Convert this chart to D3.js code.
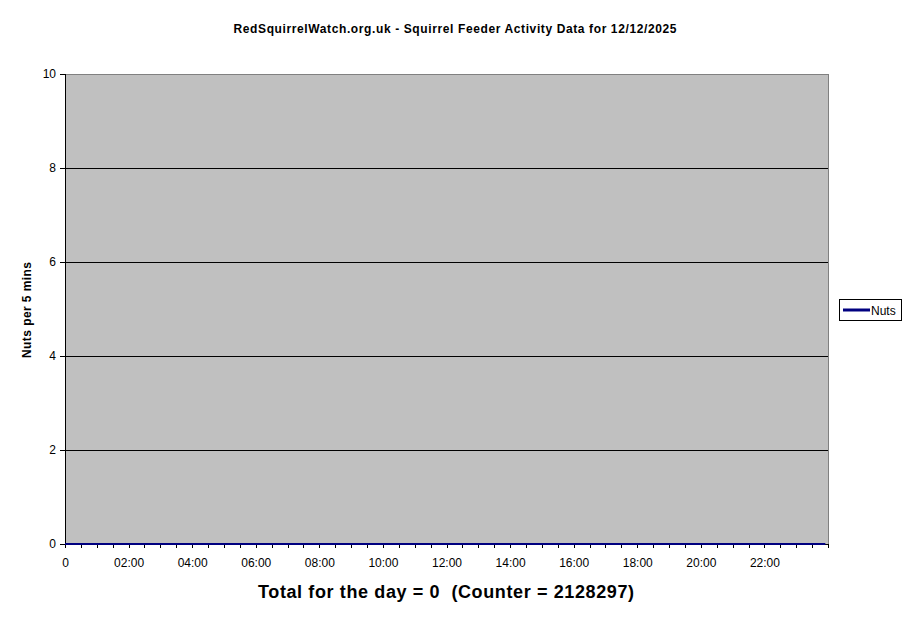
<!DOCTYPE html>
<html><head><meta charset="utf-8">
<script src="https://cdn.jsdelivr.net/npm/d3@7"></script>
<style>
body{margin:0;background:#fff;}
text{font-family:Arial,"Liberation Sans",sans-serif;}
</style></head>
<body><svg id="c" width="911" height="623"></svg>
<script>
const title = "RedSquirrelWatch.org.uk - Squirrel Feeder Activity Data for 12/12/2025";
const yLabel = "Nuts per 5 mins";
const xLabel = "Total for the day = 0  (Counter = 2128297)";
const seriesName = "Nuts";
const yTicks = [0, 2, 4, 6, 8, 10];
const xLabelHours = ["0","02:00","04:00","06:00","08:00","10:00","12:00","14:00","16:00","18:00","20:00","22:00"];
// 288 five-minute readings (one row per hour), all zero on this day
const nuts = [
0,0,0,0,0,0,0,0,0,0,0,0, 0,0,0,0,0,0,0,0,0,0,0,0, 0,0,0,0,0,0,0,0,0,0,0,0, 0,0,0,0,0,0,0,0,0,0,0,0,
0,0,0,0,0,0,0,0,0,0,0,0, 0,0,0,0,0,0,0,0,0,0,0,0, 0,0,0,0,0,0,0,0,0,0,0,0, 0,0,0,0,0,0,0,0,0,0,0,0,
0,0,0,0,0,0,0,0,0,0,0,0, 0,0,0,0,0,0,0,0,0,0,0,0, 0,0,0,0,0,0,0,0,0,0,0,0, 0,0,0,0,0,0,0,0,0,0,0,0,
0,0,0,0,0,0,0,0,0,0,0,0, 0,0,0,0,0,0,0,0,0,0,0,0, 0,0,0,0,0,0,0,0,0,0,0,0, 0,0,0,0,0,0,0,0,0,0,0,0,
0,0,0,0,0,0,0,0,0,0,0,0, 0,0,0,0,0,0,0,0,0,0,0,0, 0,0,0,0,0,0,0,0,0,0,0,0, 0,0,0,0,0,0,0,0,0,0,0,0,
0,0,0,0,0,0,0,0,0,0,0,0, 0,0,0,0,0,0,0,0,0,0,0,0, 0,0,0,0,0,0,0,0,0,0,0,0, 0,0,0,0,0,0,0,0,0,0,0,0
];

const svg = d3.select("#c");
const L = 65, R = 828, T = 74, B = 544;
const x = d3.scaleLinear().domain([0, 288]).range([L, R]);
const y = d3.scaleLinear().domain([0, 10]).range([B, T]);

// plot area
svg.append("rect").attr("x", L).attr("y", T).attr("width", R - L).attr("height", B - T)
  .attr("fill", "#c0c0c0").attr("stroke", "#808080").attr("stroke-width", 1)
  .attr("shape-rendering", "crispEdges");

// gridlines
svg.append("g").selectAll("line").data(yTicks.filter(d => d > 0 && d < 10)).join("line")
  .attr("x1", L).attr("x2", R).attr("y1", d => y(d)).attr("y2", d => y(d))
  .attr("stroke", "#000").attr("shape-rendering", "crispEdges");

// y axis
const yAx = svg.append("g").attr("transform", `translate(${L},0)`)
  .call(d3.axisLeft(y).tickValues(yTicks).tickSize(5).tickPadding(4).tickFormat(d3.format("d")));
yAx.select(".domain").attr("stroke", "#000").attr("shape-rendering", "crispEdges");
yAx.selectAll(".tick line").attr("stroke", "#000").attr("shape-rendering", "crispEdges");
yAx.selectAll("text").attr("font-size", 12).attr("font-family", "Arial, 'Liberation Sans', sans-serif").attr("fill", "#000");

// x axis
const xTickVals = d3.range(0, 289, 6);
const xAx = svg.append("g").attr("transform", `translate(0,${B})`)
  .call(d3.axisBottom(x).tickValues(xTickVals).tickSize(4).tickPadding(10)
    .tickFormat(d => d % 24 === 0 && d / 24 < xLabelHours.length ? xLabelHours[d / 24] : ""));
xAx.select(".domain").attr("stroke", "#000").attr("shape-rendering", "crispEdges");
xAx.selectAll(".tick line").attr("stroke", "#000").attr("shape-rendering", "crispEdges");
xAx.selectAll("text").attr("font-size", 12).attr("font-family", "Arial, 'Liberation Sans', sans-serif").attr("fill", "#000");

// data line
const line = d3.line().x((d, i) => x(i)).y(d => y(d));
svg.append("path").datum(nuts).attr("d", line).attr("fill", "none")
  .attr("stroke", "#000080").attr("stroke-width", 2);

// title
svg.append("text").attr("x", 455).attr("y", 33).attr("text-anchor", "middle")
  .attr("font-size", 12).attr("font-weight", "bold")
  .attr("textLength", 443).attr("lengthAdjust", "spacing").text(title);

// y label
svg.append("text").attr("transform", "translate(31,310) rotate(-90)").attr("text-anchor", "middle")
  .attr("font-size", 12).attr("font-weight", "bold")
  .attr("textLength", 96).attr("lengthAdjust", "spacing").text(yLabel);

// x label
svg.append("text").attr("x", 446).attr("y", 598).attr("text-anchor", "middle")
  .attr("font-size", 18).attr("font-weight", "bold").style("white-space", "pre")
  .attr("textLength", 376).attr("lengthAdjust", "spacing").text(xLabel);

// legend
const lg = svg.append("g");
lg.append("rect").attr("x", 839.5).attr("y", 299.5).attr("width", 62).attr("height", 21)
  .attr("fill", "#fff").attr("stroke", "#000");
lg.append("line").attr("x1", 843).attr("x2", 870).attr("y1", 310).attr("y2", 310)
  .attr("stroke", "#000080").attr("stroke-width", 3);
lg.append("text").attr("x", 871).attr("y", 314.5).attr("font-size", 12).text(seriesName);
</script></body></html>
